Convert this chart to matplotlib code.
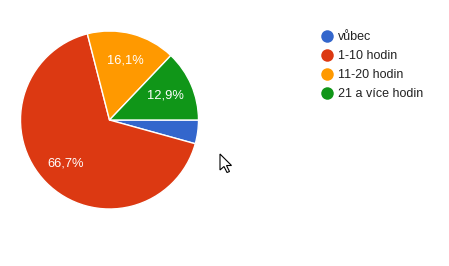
import matplotlib
matplotlib.use('Agg')
import matplotlib.pyplot as plt
from matplotlib.patches import Polygon

plt.rcParams['font.family'] = ['Liberation Sans', 'DejaVu Sans']

# data
labels = ['vůbec', '1-10 hodin', '11-20 hodin', '21 a více hodin']
values = [4.3, 66.7, 16.1, 12.9]
colors = ['#3366cc', '#dc3912', '#ff9900', '#109618']

W, H = 449, 266
fig = plt.figure(figsize=(W / 100, H / 100), dpi=100)

# pie, centre (109.5, 120) px, radius 89 px
cx, cy, r = 109.5, 120, 89
ax = fig.add_axes([(cx - r) / W, (H - cy - r) / H, 2 * r / W, 2 * r / H])

def fmt(p):
    # google hides tiny slice labels
    return ('%.1f%%' % p).replace('.', ',') if p > 5 else ''

wedges, texts, autotexts = ax.pie(
    values, colors=colors, startangle=0, counterclock=False,
    autopct=fmt, pctdistance=0.69,
    wedgeprops=dict(edgecolor='white', linewidth=1),
    textprops=dict(color='white', fontsize=9.3))
ax.set_xlim(-1, 1)
ax.set_ylim(-1, 1)
ax.set_aspect('equal')
ax.axis('off')
for w in wedges:
    w.set_clip_on(False)

# overlay in pixel coords for legend
ov = fig.add_axes([0, 0, 1, 1])
ov.set_xlim(0, W)
ov.set_ylim(H, 0)
ov.axis('off')

leg_y = [35.5, 54.5, 73.5, 92.5]
for lab, col, y in zip(labels, colors, leg_y):
    ov.plot(327, y, 'o', color=col, markersize=9, markeredgewidth=0)
    ov.text(338, y + 4.4, lab, fontsize=9, color='#222222', va='baseline', ha='left')

# mouse cursor left in the screenshot
cur = [(0, 0), (0, 16), (4, 12.5), (7, 18.5), (9.5, 17.5), (6.5, 11.5), (11.5, 11.5)]
ov.add_patch(Polygon([(220 + x, 154 + y) for x, y in cur], closed=True,
                     facecolor='white', edgecolor='black', linewidth=0.8))

fig.savefig('out.png', dpi=100)
